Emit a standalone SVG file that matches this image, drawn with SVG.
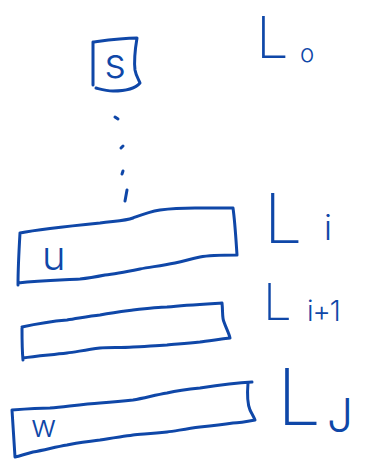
<svg xmlns="http://www.w3.org/2000/svg" width="369" height="465" viewBox="0 0 369 465">
<style>
.ink{fill:none;stroke:#0f47a8;stroke-width:3;stroke-linecap:round;stroke-linejoin:round}
.t{fill:#0f47a8;font-family:Inter,"DejaVu Sans",sans-serif;font-weight:300}
.big{font-weight:200}
</style>
<rect width="369" height="465" fill="#ffffff"/>
<g id="node-s">
<path class="ink" d="M93,42 C108,40 122,38 137,38 C135,50 134,62 135,70 C136,76 139,80 140,83 C135,89 125,91 113,91 C106,91 100,89 96,88 M93,85 C93,70 93,55 93,42"/>
<text class="t" x="115" y="78" font-size="42" text-anchor="middle">s</text>
</g>
<g id="label-L0">
<text class="t big" x="256" y="58" font-size="58">L</text>
<text class="t" x="300" y="62" font-size="24">o</text>
</g>
<g id="layer-i">
<path class="ink" d="M20,233 C30,231 60,227 100,223 C115,221 125,221 133,218 C141,215 148,212 160,210 C175,208 185,208 195,208 L233,208 C235,222 236,240 237,255 C225,255 210,255 200,257 C190,259 185,261 175,263 C160,266 150,267 140,269 C125,272 115,274 105,275 C95,277 90,278 80,279 C60,280 40,280 18,283 M20,233 C19,250 18,268 18,285"/>
<text class="t" x="42" y="270" font-size="40">u</text>
<text class="t big" x="264" y="243" font-size="68">L</text>
<text class="t" x="324" y="240" font-size="34">i</text>
</g>
<g id="layer-i1">
<path class="ink" d="M22,327 C40,323 55,321 67,320 C80,318 90,316 100,315 C115,312 125,311 133,310 C150,308 160,307 167,307 C185,305 205,304 222,303 C223,312 222,318 224,322 C226,328 229,333 230,338 C215,340 205,341 200,342 C185,344 175,344 167,345 C150,346 140,347 133,347 C120,348 110,347 100,348 C85,350 75,352 67,353 C50,355 35,356 23,358 M22,328 C22,340 22,350 23,360"/>
<text class="t big" x="263" y="320" font-size="51">L</text>
<text class="t" x="307" y="321" font-size="28" letter-spacing="-1">i+1</text>
</g>
<g id="layer-j">
<path class="ink" d="M12,410 C25,409 40,408 50,408 C70,406 85,404 100,403 C115,402 125,401 133,400 C145,398 155,395 167,393 C180,390 190,389 200,388 C220,385 235,383 252,382 M248,383 C247,395 248,405 250,410 C252,414 254,417 255,420 C245,422 240,423 233,423 C220,425 210,426 200,427 C185,429 175,431 167,432 C150,434 140,434 133,435 C120,437 110,438 100,440 C85,442 75,443 67,445 C55,447 45,450 33,452 C25,454 20,456 15,457 M12,410 C13,425 14,442 15,457"/>
<text class="t" x="31" y="437" font-size="31">w</text>
<text class="t big" x="277" y="425" font-size="78">L</text>
<text class="t" x="327" y="432" font-size="46">J</text>
</g>
<g id="connectors">
<path class="ink" d="M115,117 L118,119 M121,148 L123,146 M122,174 L123,171 M127,190 L125,201"/>
</g>
</svg>
